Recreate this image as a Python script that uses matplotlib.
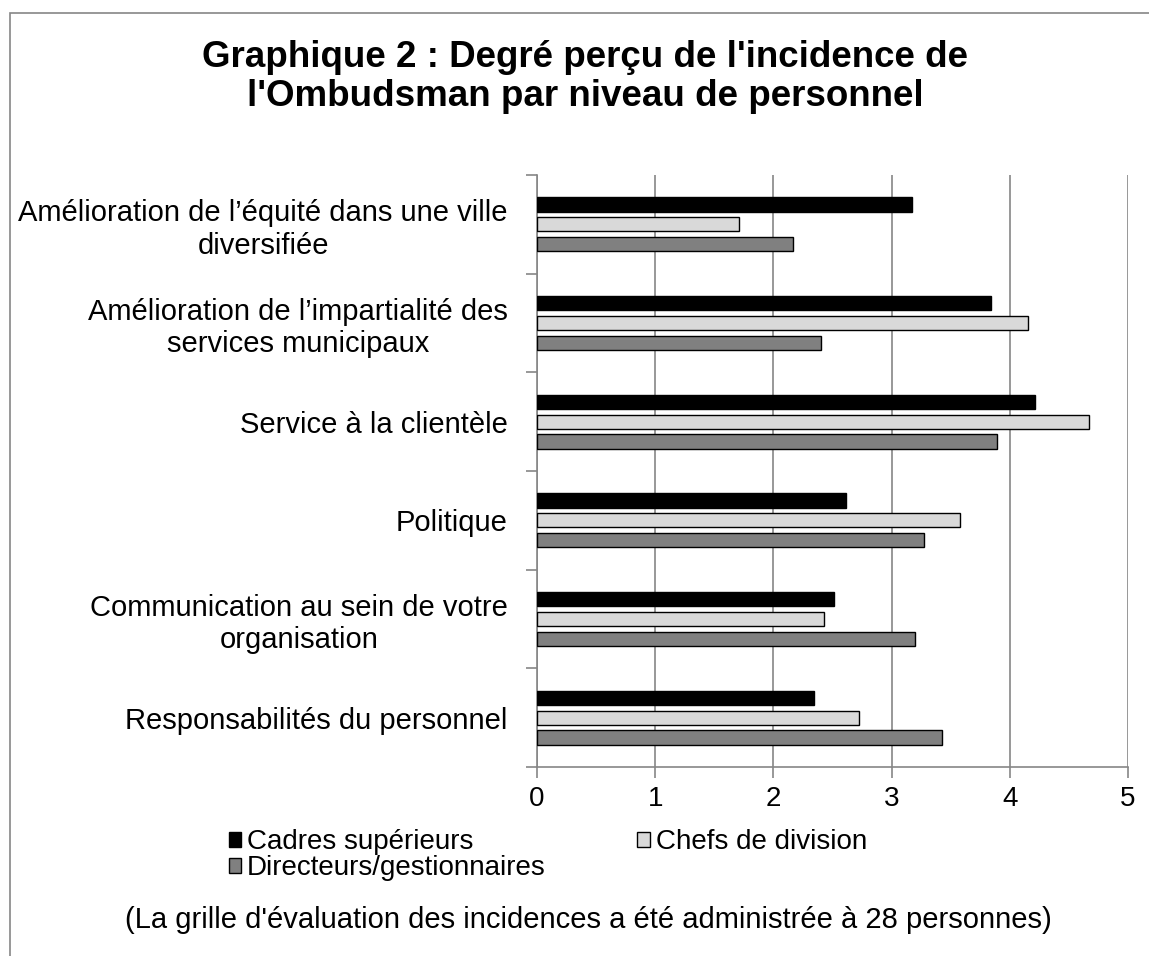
import matplotlib
matplotlib.use("Agg")
import matplotlib.pyplot as plt
from matplotlib.patches import Rectangle, Patch
import numpy as np

plt.rcParams['font.family'] = ['Liberation Sans', 'DejaVu Sans']

categories = [
    "Amélioration de l’équité dans une ville\ndiversifiée",
    "Amélioration de l’impartialité des\nservices municipaux",
    "Service à la clientèle",
    "Politique",
    "Communication au sein de votre\norganisation",
    "Responsabilités du personnel",
]
series_names = ["Cadres supérieurs", "Chefs de division", "Directeurs/gestionnaires"]
cadres = [3.17, 3.84, 4.21, 2.61, 2.51, 2.34]
chefs = [1.71, 4.15, 4.67, 3.58, 2.43, 2.72]
directeurs = [2.17, 2.40, 3.89, 3.27, 3.20, 3.43]
xticks = [0, 1, 2, 3, 4, 5]
title = "Graphique 2 : Degré perçu de l'incidence de\nl'Ombudsman par niveau de personnel"
footnote = "(La grille d'évaluation des incidences a été administrée à 28 personnes)"

colors = ["#000000", "#D9D9D9", "#808080"]
W, H = 1149, 956
fig = plt.figure(figsize=(W / 100, H / 100), dpi=100)

# outer frame
fig.patches.append(Rectangle((10 / W, -0.05), 1.2, (956 - 13) / H + 0.05,
                             transform=fig.transFigure, fill=False,
                             edgecolor="#868686", linewidth=1.2))

ax = fig.add_axes([537 / W, (956 - 767) / H, (1128 - 537) / W, (767 - 175) / H])
y = np.arange(len(categories))
offsets = [-0.2, 0.0, 0.2]
bh = 0.145
for vals, off, c, name in zip([cadres, chefs, directeurs], offsets, colors, series_names):
    ax.barh(y + off, vals, height=bh, color=c, edgecolor="black", linewidth=1.0,
            label=name, zorder=3)

ax.set_xlim(0, 5)
ax.set_ylim(len(categories) - 0.5, -0.5)
ax.set_xticks(xticks)
ax.set_xticklabels([str(t) for t in xticks], fontsize=20)
ax.set_yticks(y)
ax.set_yticklabels(categories, fontsize=21, multialignment="center", linespacing=1.2)
ax.set_yticks(np.arange(-0.5, len(categories), 1.0), minor=True)
ax.tick_params(axis="y", which="major", length=0, pad=21)
ax.tick_params(axis="y", which="minor", length=8, color="#868686", width=1.2)
ax.tick_params(axis="x", which="major", length=8, color="#868686", width=1.2, pad=6)
ax.grid(axis="x", color="#868686", linewidth=1.2, zorder=0)
for s in ["top", "right"]:
    ax.spines[s].set_visible(False)
for s in ["left", "bottom"]:
    ax.spines[s].set_color("#868686")
    ax.spines[s].set_linewidth(1.2)

fig.text(585 / W, 1 - 77 / H, title, ha="center", va="center", fontsize=26.5,
         fontweight="bold", linespacing=1.13)

handles = [Patch(facecolor=c, edgecolor="black", linewidth=1.0) for c in colors]
order = [0, 2, 1]
fig.legend([handles[i] for i in order], [series_names[i] for i in order],
           loc="upper left", bbox_to_anchor=(229 / W, 1 - 829 / H), ncol=2,
           frameon=False, fontsize=20, handlelength=0.45, handleheight=0.45,
           handletextpad=0.2, columnspacing=3.3, labelspacing=0.0,
           borderaxespad=0, borderpad=0)

fig.text(588 / W, 1 - 920 / H, footnote, ha="center", va="center", fontsize=21)

fig.savefig("out.png", dpi=100)
